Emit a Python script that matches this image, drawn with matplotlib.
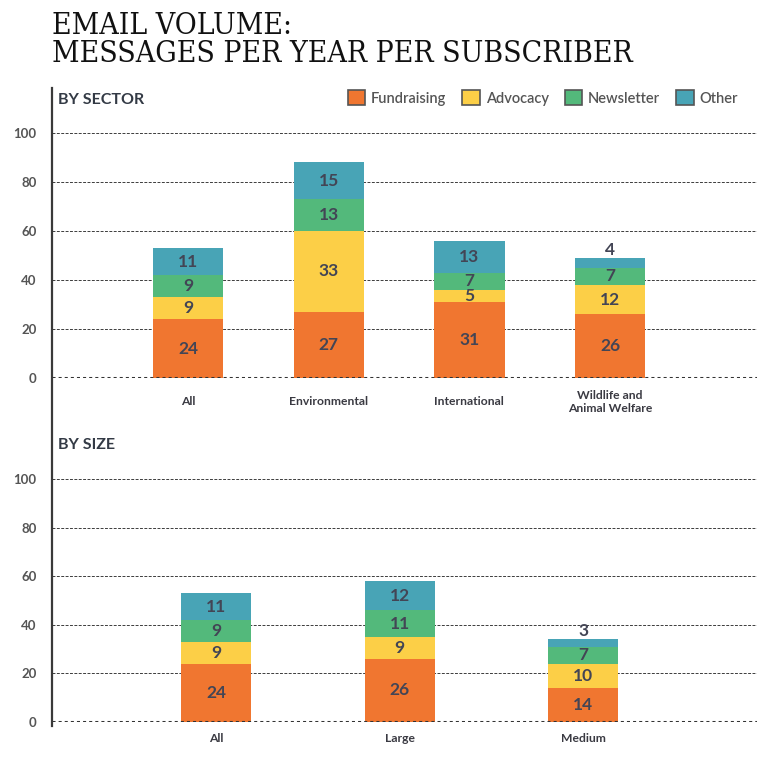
import matplotlib
matplotlib.use('Agg')
import matplotlib.pyplot as plt
from matplotlib.patches import Patch
from matplotlib.lines import Line2D

# ---------------- data ----------------
series = ['Fundraising', 'Advocacy', 'Newsletter', 'Other']
colors = ['#F07630', '#FCCF47', '#53B97B', '#48A4B6']

sector_cats = ['All', 'Environmental', 'International', 'Wildlife and\nAnimal Welfare']
sector_fundraising = [24, 27, 31, 26]
sector_advocacy = [9, 33, 5, 12]
sector_newsletter = [9, 13, 7, 7]
sector_other = [11, 15, 13, 4]

size_cats = ['All', 'Large', 'Medium']
size_fundraising = [24, 26, 14]
size_advocacy = [9, 9, 10]
size_newsletter = [9, 11, 7]
size_other = [11, 12, 3]

yticks = [0, 20, 40, 60, 80, 100]

title_text = 'EMAIL VOLUME:\nMESSAGES PER YEAR PER SUBSCRIBER'

# ---------------- figure ----------------
W, H = 771, 757
fig = plt.figure(figsize=(W / 100, H / 100), dpi=100)
fig.patch.set_facecolor('white')


def fx(x):
    return x / W


def fy(y):
    return 1 - y / H


SANS = 'Lato'
VAL_COLOR = '#434555'
TICK_COLOR = '#555555'


def draw_panel(ax, cats, stacks, xlim, width, xpad):
    xs = list(range(len(cats)))
    bottoms = [0] * len(cats)
    for vals, col in zip(stacks, colors):
        ax.bar(xs, vals, width, bottom=bottoms, color=col, zorder=2, linewidth=0)
        for x, b, v in zip(xs, bottoms, vals):
            if v <= 4:
                ax.annotate(str(v), (x, b + v), xytext=(0, 0), textcoords='offset points',
                            ha='center', va='bottom', fontsize=12.5, fontweight='bold',
                            color=VAL_COLOR, family=SANS, zorder=4)
            else:
                ax.text(x, b + v / 2, str(v), ha='center', va='center', fontsize=12.5,
                        fontweight='bold', color=VAL_COLOR, family=SANS, zorder=4)
        bottoms = [b + v for b, v in zip(bottoms, vals)]
    for t in yticks[1:]:
        ax.axhline(t, color='#3c3c3c', lw=0.7, ls=(0, (3, 1.5)), zorder=1)
    ax.axhline(0, color='#333333', lw=2.2, ls=(0, (1.0, 1.0)), zorder=3)
    ax.set_xlim(*xlim)
    ax.set_ylim(0, 100)
    ax.set_yticks(yticks)
    ax.set_yticklabels([str(t) for t in yticks], fontsize=9.5, fontweight='bold',
                       color=TICK_COLOR, family=SANS)
    ax.set_xticks(xs)
    ax.set_xticklabels(cats, fontsize=8.7, fontweight='bold', color='#3a3a42',
                       family=SANS, linespacing=1.15)
    for lab in ax.get_xticklabels():
        lab.set_verticalalignment('center')
    ax.tick_params(axis='y', length=0, pad=11)
    ax.tick_params(axis='x', length=0, pad=xpad)
    for s in ax.spines.values():
        s.set_visible(False)
    ax.patch.set_alpha(0)


# top panel: 0 at y=378, 100 at y=133
ax1 = fig.add_axes([fx(52), fy(378), fx(757) - fx(52), fy(133) - fy(378)])
draw_panel(ax1, sector_cats,
           [sector_fundraising, sector_advocacy, sector_newsletter, sector_other],
           (-0.967, 4.045), 0.5, 24 * 0.72)

# bottom panel: 0 at y=722, 100 at y=479
ax2 = fig.add_axes([fx(52), fy(722), fx(757) - fx(52), fy(479) - fy(722)])
draw_panel(ax2, size_cats,
           [size_fundraising, size_advocacy, size_newsletter, size_other],
           (-0.894, 2.948), 0.381, 17 * 0.72)

# left vertical rule
fig.add_artist(Line2D([fx(52), fx(52)], [fy(88), fy(726)], color='#3a3a3a', lw=1.6,
                      transform=fig.transFigure))

# section headings
fig.text(fx(58), fy(100), 'BY SECTOR', fontsize=11.5, fontweight='bold', color='#333a45',
         family=SANS, va='center', ha='left')
fig.text(fx(58), fy(445), 'BY SIZE', fontsize=11.5, fontweight='bold', color='#333a45',
         family=SANS, va='center', ha='left')

# title
fig.text(fx(52), fy(12), title_text, fontsize=21.5, family='DejaVu Serif',
         fontstretch='condensed', color='#111111',
         va='top', ha='left', linespacing=1.0)

# legend
handles = [Patch(facecolor=c, edgecolor='#555555', linewidth=1.2, label=s)
           for s, c in zip(series, colors)]
fig.legend(handles=handles, loc='center right', bbox_to_anchor=(fx(738), fy(98)),
           ncol=4, frameon=False, handlelength=1.2, handleheight=1.2, handletextpad=0.4,
           columnspacing=1.1, borderpad=0, borderaxespad=0,
           prop={'family': SANS, 'size': 10.5, 'weight': 'semibold'}, labelcolor='#555555')

fig.savefig('out.png', dpi=100, facecolor='white')
